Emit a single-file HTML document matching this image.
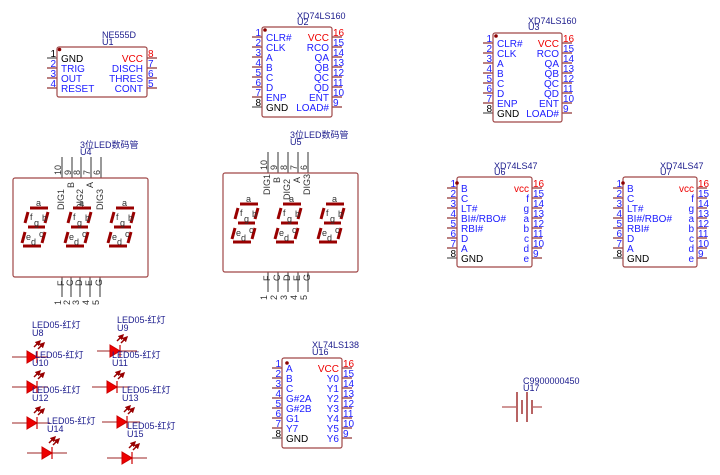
<!DOCTYPE html>
<html><head><meta charset="utf-8"><style>
html,body{margin:0;padding:0;background:#fff}
svg{display:block}
text{font-family:"Liberation Sans","Noto Sans CJK SC",sans-serif}
.pn{fill:#2020ff;font-size:10px}
.lb{fill:#1a1a8c;font-size:9px}
.bx{fill:#fff;stroke:#a04848;stroke-width:1.2}
.pl{stroke:#8b2a2a;stroke-width:1.2}
.gl{stroke:#555;stroke-width:1.2}
.sg{stroke:#990000;stroke-width:3;stroke-linecap:butt}
.st{fill:#333;font-size:9px}
.led{fill:#ee0000;stroke:#cc0000}
.lw{stroke:#b05050;stroke-width:1.2}
.ar{stroke:#990000;stroke-width:1.5}
</style></head><body>
<svg width="720" height="475" viewBox="0 0 720 475" xmlns="http://www.w3.org/2000/svg">
<defs>
<marker id="ah" markerWidth="4" markerHeight="4" refX="3" refY="2" orient="auto"><path d="M0,0 L4,2 L0,4z" fill="#990000"/></marker>
</defs>

<!-- U1 NE555D -->
<text class="lb" x="102" y="38">NE555D</text><text class="lb" x="102" y="45">U1</text>
<g>
<line class="gl" x1="47" y1="58" x2="57" y2="58"/>
<line class="pl" x1="47" y1="68" x2="57" y2="68"/><line class="pl" x1="47" y1="78" x2="57" y2="78"/><line class="pl" x1="47" y1="88" x2="57" y2="88"/>
<line class="pl" x1="147" y1="58" x2="157" y2="58"/><line class="pl" x1="147" y1="68" x2="157" y2="68"/><line class="pl" x1="147" y1="78" x2="157" y2="78"/><line class="pl" x1="147" y1="88" x2="157" y2="88"/>
<rect class="bx" x="57" y="47" width="90" height="50" rx="2"/>
<circle cx="59.5" cy="49.5" r="1.8" fill="#8b0000"/>
<text class="pn" x="56" y="57" text-anchor="end" style="fill:#000">1</text>
<text class="pn" x="56" y="67" text-anchor="end">2</text><text class="pn" x="56" y="77" text-anchor="end">3</text><text class="pn" x="56" y="87" text-anchor="end">4</text>
<text class="pn" x="61" y="62" style="fill:#000">GND</text>
<text class="pn" x="61" y="72">TRIG</text><text class="pn" x="61" y="82">OUT</text><text class="pn" x="61" y="92">RESET</text>
<text class="pn" x="143" y="62" text-anchor="end" style="fill:#e00">VCC</text>
<text class="pn" x="143" y="72" text-anchor="end">DISCH</text><text class="pn" x="143" y="82" text-anchor="end">THRES</text><text class="pn" x="143" y="92" text-anchor="end">CONT</text>
<text class="pn" x="148" y="57" style="fill:#e00">8</text><text class="pn" x="148" y="67">7</text><text class="pn" x="148" y="77">6</text><text class="pn" x="148" y="87">5</text>
</g>

<!-- U2 XD74LS160 -->
<g transform="translate(262,27)">
<text class="lb" x="35" y="-8">XD74LS160</text><text class="lb" x="35" y="-2">U2</text>
<g id="ls160">
<line class="pl" x1="-10" y1="10" x2="0" y2="10"/><line class="pl" x1="-10" y1="20" x2="0" y2="20"/><line class="pl" x1="-10" y1="30" x2="0" y2="30"/><line class="pl" x1="-10" y1="40" x2="0" y2="40"/><line class="pl" x1="-10" y1="50" x2="0" y2="50"/><line class="pl" x1="-10" y1="60" x2="0" y2="60"/><line class="pl" x1="-10" y1="70" x2="0" y2="70"/><line class="gl" x1="-10" y1="80" x2="0" y2="80"/>
<line class="pl" x1="70" y1="10" x2="80" y2="10"/><line class="pl" x1="70" y1="20" x2="80" y2="20"/><line class="pl" x1="70" y1="30" x2="80" y2="30"/><line class="pl" x1="70" y1="40" x2="80" y2="40"/><line class="pl" x1="70" y1="50" x2="80" y2="50"/><line class="pl" x1="70" y1="60" x2="80" y2="60"/><line class="pl" x1="70" y1="70" x2="80" y2="70"/><line class="pl" x1="70" y1="80" x2="80" y2="80"/>
<rect class="bx" x="0" y="0" width="70" height="90" rx="2"/>
<circle cx="3" cy="3" r="1.8" fill="#8b0000"/>
<text class="pn" x="-1" y="9" text-anchor="end">1</text><text class="pn" x="-1" y="19" text-anchor="end">2</text><text class="pn" x="-1" y="29" text-anchor="end">3</text><text class="pn" x="-1" y="39" text-anchor="end">4</text><text class="pn" x="-1" y="49" text-anchor="end">5</text><text class="pn" x="-1" y="59" text-anchor="end">6</text><text class="pn" x="-1" y="69" text-anchor="end">7</text><text class="pn" x="-1" y="79" text-anchor="end" style="fill:#000">8</text>
<text class="pn" x="4" y="14">CLR#</text><text class="pn" x="4" y="24">CLK</text><text class="pn" x="4" y="34">A</text><text class="pn" x="4" y="44">B</text><text class="pn" x="4" y="54">C</text><text class="pn" x="4" y="64">D</text><text class="pn" x="4" y="74">ENP</text><text class="pn" x="4" y="84" style="fill:#000">GND</text>
<text class="pn" x="67" y="14" text-anchor="end" style="fill:#e00">VCC</text><text class="pn" x="67" y="24" text-anchor="end">RCO</text><text class="pn" x="67" y="34" text-anchor="end">QA</text><text class="pn" x="67" y="44" text-anchor="end">QB</text><text class="pn" x="67" y="54" text-anchor="end">QC</text><text class="pn" x="67" y="64" text-anchor="end">QD</text><text class="pn" x="67" y="74" text-anchor="end">ENT</text><text class="pn" x="67" y="84" text-anchor="end">LOAD#</text>
<text class="pn" x="71" y="9" style="fill:#e00">16</text><text class="pn" x="71" y="19">15</text><text class="pn" x="71" y="29">14</text><text class="pn" x="71" y="39">13</text><text class="pn" x="71" y="49">12</text><text class="pn" x="71" y="59">11</text><text class="pn" x="71" y="69">10</text><text class="pn" x="71" y="79">9</text>
</g>
</g>

<!-- U3 -->
<g transform="translate(493,33)">
<text class="lb" x="35" y="-9">XD74LS160</text><text class="lb" x="35" y="-3">U3</text>
<line class="pl" x1="-10" y1="10" x2="0" y2="10"/><line class="pl" x1="-10" y1="20" x2="0" y2="20"/><line class="pl" x1="-10" y1="30" x2="0" y2="30"/><line class="pl" x1="-10" y1="40" x2="0" y2="40"/><line class="pl" x1="-10" y1="50" x2="0" y2="50"/><line class="pl" x1="-10" y1="60" x2="0" y2="60"/><line class="pl" x1="-10" y1="70" x2="0" y2="70"/><line class="gl" x1="-10" y1="80" x2="0" y2="80"/>
<line class="pl" x1="69" y1="10" x2="79" y2="10"/><line class="pl" x1="69" y1="20" x2="79" y2="20"/><line class="pl" x1="69" y1="30" x2="79" y2="30"/><line class="pl" x1="69" y1="40" x2="79" y2="40"/><line class="pl" x1="69" y1="50" x2="79" y2="50"/><line class="pl" x1="69" y1="60" x2="79" y2="60"/><line class="pl" x1="69" y1="70" x2="79" y2="70"/><line class="pl" x1="69" y1="80" x2="79" y2="80"/>
<rect class="bx" x="0" y="0" width="69" height="89" rx="2"/>
<circle cx="3" cy="3" r="1.8" fill="#8b0000"/>
<text class="pn" x="-1" y="9" text-anchor="end">1</text><text class="pn" x="-1" y="19" text-anchor="end">2</text><text class="pn" x="-1" y="29" text-anchor="end">3</text><text class="pn" x="-1" y="39" text-anchor="end">4</text><text class="pn" x="-1" y="49" text-anchor="end">5</text><text class="pn" x="-1" y="59" text-anchor="end">6</text><text class="pn" x="-1" y="69" text-anchor="end">7</text><text class="pn" x="-1" y="79" text-anchor="end" style="fill:#000">8</text>
<text class="pn" x="4" y="14">CLR#</text><text class="pn" x="4" y="24">CLK</text><text class="pn" x="4" y="34">A</text><text class="pn" x="4" y="44">B</text><text class="pn" x="4" y="54">C</text><text class="pn" x="4" y="64">D</text><text class="pn" x="4" y="74">ENP</text><text class="pn" x="4" y="84" style="fill:#000">GND</text>
<text class="pn" x="66" y="14" text-anchor="end" style="fill:#e00">VCC</text><text class="pn" x="66" y="24" text-anchor="end">RCO</text><text class="pn" x="66" y="34" text-anchor="end">QA</text><text class="pn" x="66" y="44" text-anchor="end">QB</text><text class="pn" x="66" y="54" text-anchor="end">QC</text><text class="pn" x="66" y="64" text-anchor="end">QD</text><text class="pn" x="66" y="74" text-anchor="end">ENT</text><text class="pn" x="66" y="84" text-anchor="end">LOAD#</text>
<text class="pn" x="70" y="9" style="fill:#e00">16</text><text class="pn" x="70" y="19">15</text><text class="pn" x="70" y="29">14</text><text class="pn" x="70" y="39">13</text><text class="pn" x="70" y="49">12</text><text class="pn" x="70" y="59">11</text><text class="pn" x="70" y="69">10</text><text class="pn" x="70" y="79">9</text>
</g>

<!-- U4 7seg -->
<g transform="translate(0,0)">
<text class="lb" x="80" y="148">3位LED数码管</text><text class="lb" x="80" y="155">U4</text>
<line class="gl" x1="62" y1="157" x2="62" y2="178"/><line class="gl" x1="72" y1="157" x2="72" y2="178"/><line class="gl" x1="81" y1="157" x2="81" y2="178"/><line class="gl" x1="91" y1="157" x2="91" y2="178"/><line class="gl" x1="101" y1="157" x2="101" y2="178"/>
<line class="gl" x1="62" y1="277" x2="62" y2="297"/><line class="gl" x1="71" y1="277" x2="71" y2="297"/><line class="gl" x1="80" y1="277" x2="80" y2="297"/><line class="gl" x1="90" y1="277" x2="90" y2="297"/><line class="gl" x1="100" y1="277" x2="100" y2="297"/>
<rect class="bx" x="13" y="178" width="135" height="99" rx="2"/>
<g class="st">
<text transform="translate(61,175) rotate(-90)">10</text><text transform="translate(71,175) rotate(-90)">9</text><text transform="translate(80,175) rotate(-90)">8</text><text transform="translate(90,175) rotate(-90)">7</text><text transform="translate(100,175) rotate(-90)">6</text>
<text transform="translate(64,210) rotate(-90)">DIG1</text><text transform="translate(74,188) rotate(-90)">B</text><text transform="translate(83,210) rotate(-90)">DIG2</text><text transform="translate(93,188) rotate(-90)">A</text><text transform="translate(103,210) rotate(-90)">DIG3</text>
<text transform="translate(64,286) rotate(-90)">F</text><text transform="translate(73,286) rotate(-90)">C</text><text transform="translate(82,286) rotate(-90)">D</text><text transform="translate(92,286) rotate(-90)">E</text><text transform="translate(102,286) rotate(-90)">G</text>
<text transform="translate(61,300) rotate(-90)" text-anchor="end">1</text><text transform="translate(70,300) rotate(-90)" text-anchor="end">2</text><text transform="translate(79,300) rotate(-90)" text-anchor="end">3</text><text transform="translate(89,300) rotate(-90)" text-anchor="end">4</text><text transform="translate(99,300) rotate(-90)" text-anchor="end">5</text>
</g>
<g id="dg">
<line class="sg" x1="30" y1="208" x2="48" y2="208"/>
<line class="sg" x1="25" y1="223" x2="28" y2="212"/><line class="sg" x1="48" y1="212" x2="45" y2="223"/>
<line class="sg" x1="28" y1="227" x2="45" y2="227"/>
<line class="sg" x1="22" y1="243" x2="25" y2="232"/><line class="sg" x1="45" y1="232" x2="42" y2="243"/>
<line class="sg" x1="23" y1="246" x2="41" y2="246"/>
<text class="st" x="36" y="206">a</text><text class="st" x="30" y="220">f</text><text class="st" x="34" y="226">g</text><text class="st" x="42" y="221">b</text><text class="st" x="26" y="240">e</text><text class="st" x="31" y="245">d</text><text class="st" x="39" y="237">c</text>
</g>
<g transform="translate(43,0)">
<line class="sg" x1="30" y1="208" x2="48" y2="208"/><line class="sg" x1="25" y1="223" x2="28" y2="212"/><line class="sg" x1="48" y1="212" x2="45" y2="223"/><line class="sg" x1="28" y1="227" x2="45" y2="227"/><line class="sg" x1="22" y1="243" x2="25" y2="232"/><line class="sg" x1="45" y1="232" x2="42" y2="243"/><line class="sg" x1="23" y1="246" x2="41" y2="246"/>
<text class="st" x="36" y="206">a</text><text class="st" x="30" y="220">f</text><text class="st" x="34" y="226">g</text><text class="st" x="42" y="221">b</text><text class="st" x="26" y="240">e</text><text class="st" x="31" y="245">d</text><text class="st" x="39" y="237">c</text>
</g>
<g transform="translate(86,0)">
<line class="sg" x1="30" y1="208" x2="48" y2="208"/><line class="sg" x1="25" y1="223" x2="28" y2="212"/><line class="sg" x1="48" y1="212" x2="45" y2="223"/><line class="sg" x1="28" y1="227" x2="45" y2="227"/><line class="sg" x1="22" y1="243" x2="25" y2="232"/><line class="sg" x1="45" y1="232" x2="42" y2="243"/><line class="sg" x1="23" y1="246" x2="41" y2="246"/>
<text class="st" x="36" y="206">a</text><text class="st" x="30" y="220">f</text><text class="st" x="34" y="226">g</text><text class="st" x="42" y="221">b</text><text class="st" x="26" y="240">e</text><text class="st" x="31" y="245">d</text><text class="st" x="39" y="237">c</text>
</g>
</g>

<!-- U5 7seg -->
<g transform="translate(210,-5)">
<text class="lb" x="80" y="143">3位LED数码管</text><text class="lb" x="80" y="150">U5</text>
<line class="gl" x1="58" y1="157" x2="58" y2="178"/><line class="gl" x1="68" y1="157" x2="68" y2="178"/><line class="gl" x1="78" y1="157" x2="78" y2="178"/><line class="gl" x1="88" y1="157" x2="88" y2="178"/><line class="gl" x1="98" y1="157" x2="98" y2="178"/>
<line class="gl" x1="58" y1="277" x2="58" y2="297"/><line class="gl" x1="68" y1="277" x2="68" y2="297"/><line class="gl" x1="78" y1="277" x2="78" y2="297"/><line class="gl" x1="88" y1="277" x2="88" y2="297"/><line class="gl" x1="98" y1="277" x2="98" y2="297"/>
<rect class="bx" x="13" y="178" width="135" height="99" rx="2"/>
<g class="st">
<text transform="translate(57,175) rotate(-90)">10</text><text transform="translate(67,175) rotate(-90)">9</text><text transform="translate(77,175) rotate(-90)">8</text><text transform="translate(87,175) rotate(-90)">7</text><text transform="translate(97,175) rotate(-90)">6</text>
<text transform="translate(60,200) rotate(-90)">DIG1</text><text transform="translate(70,188) rotate(-90)">B</text><text transform="translate(80,205) rotate(-90)">DIG2</text><text transform="translate(90,188) rotate(-90)">A</text><text transform="translate(100,200) rotate(-90)">DIG3</text>
<text transform="translate(60,286) rotate(-90)">F</text><text transform="translate(70,286) rotate(-90)">C</text><text transform="translate(80,286) rotate(-90)">D</text><text transform="translate(90,286) rotate(-90)">E</text><text transform="translate(100,286) rotate(-90)">G</text>
<text transform="translate(57,300) rotate(-90)" text-anchor="end">1</text><text transform="translate(67,300) rotate(-90)" text-anchor="end">2</text><text transform="translate(77,300) rotate(-90)" text-anchor="end">3</text><text transform="translate(87,300) rotate(-90)" text-anchor="end">4</text><text transform="translate(97,300) rotate(-90)" text-anchor="end">5</text>
</g>
<g transform="translate(0,1)">
<line class="sg" x1="30" y1="208" x2="48" y2="208"/><line class="sg" x1="25" y1="223" x2="28" y2="212"/><line class="sg" x1="48" y1="212" x2="45" y2="223"/><line class="sg" x1="28" y1="227" x2="45" y2="227"/><line class="sg" x1="22" y1="243" x2="25" y2="232"/><line class="sg" x1="45" y1="232" x2="42" y2="243"/><line class="sg" x1="23" y1="246" x2="41" y2="246"/>
<text class="st" x="36" y="206">a</text><text class="st" x="30" y="220">f</text><text class="st" x="34" y="226">g</text><text class="st" x="42" y="221">b</text><text class="st" x="26" y="240">e</text><text class="st" x="31" y="245">d</text><text class="st" x="39" y="237">c</text>
</g>
<g transform="translate(43,1)">
<line class="sg" x1="30" y1="208" x2="48" y2="208"/><line class="sg" x1="25" y1="223" x2="28" y2="212"/><line class="sg" x1="48" y1="212" x2="45" y2="223"/><line class="sg" x1="28" y1="227" x2="45" y2="227"/><line class="sg" x1="22" y1="243" x2="25" y2="232"/><line class="sg" x1="45" y1="232" x2="42" y2="243"/><line class="sg" x1="23" y1="246" x2="41" y2="246"/>
<text class="st" x="36" y="206">a</text><text class="st" x="30" y="220">f</text><text class="st" x="34" y="226">g</text><text class="st" x="42" y="221">b</text><text class="st" x="26" y="240">e</text><text class="st" x="31" y="245">d</text><text class="st" x="39" y="237">c</text>
</g>
<g transform="translate(86,1)">
<line class="sg" x1="30" y1="208" x2="48" y2="208"/><line class="sg" x1="25" y1="223" x2="28" y2="212"/><line class="sg" x1="48" y1="212" x2="45" y2="223"/><line class="sg" x1="28" y1="227" x2="45" y2="227"/><line class="sg" x1="22" y1="243" x2="25" y2="232"/><line class="sg" x1="45" y1="232" x2="42" y2="243"/><line class="sg" x1="23" y1="246" x2="41" y2="246"/>
<text class="st" x="36" y="206">a</text><text class="st" x="30" y="220">f</text><text class="st" x="34" y="226">g</text><text class="st" x="42" y="221">b</text><text class="st" x="26" y="240">e</text><text class="st" x="31" y="245">d</text><text class="st" x="39" y="237">c</text>
</g>
</g>

<!-- U6 XD74LS47 -->
<g transform="translate(457,177)">
<text class="lb" x="37" y="-8">XD74LS47</text><text class="lb" x="37" y="-2">U6</text>
<line class="pl" x1="-10" y1="11" x2="0" y2="11"/><line class="pl" x1="-10" y1="21" x2="0" y2="21"/><line class="pl" x1="-10" y1="31" x2="0" y2="31"/><line class="pl" x1="-10" y1="41" x2="0" y2="41"/><line class="pl" x1="-10" y1="51" x2="0" y2="51"/><line class="pl" x1="-10" y1="61" x2="0" y2="61"/><line class="pl" x1="-10" y1="71" x2="0" y2="71"/><line class="gl" x1="-10" y1="81" x2="0" y2="81"/>
<line class="pl" x1="75" y1="11" x2="85" y2="11"/><line class="pl" x1="75" y1="21" x2="85" y2="21"/><line class="pl" x1="75" y1="31" x2="85" y2="31"/><line class="pl" x1="75" y1="41" x2="85" y2="41"/><line class="pl" x1="75" y1="51" x2="85" y2="51"/><line class="pl" x1="75" y1="61" x2="85" y2="61"/><line class="pl" x1="75" y1="71" x2="85" y2="71"/><line class="pl" x1="75" y1="81" x2="85" y2="81"/>
<rect class="bx" x="0" y="0" width="75" height="90" rx="2"/>
<circle cx="0" cy="6" r="1.8" fill="#8b0000"/>
<text class="pn" x="-1" y="10" text-anchor="end">1</text><text class="pn" x="-1" y="20" text-anchor="end">2</text><text class="pn" x="-1" y="30" text-anchor="end">3</text><text class="pn" x="-1" y="40" text-anchor="end">4</text><text class="pn" x="-1" y="50" text-anchor="end">5</text><text class="pn" x="-1" y="60" text-anchor="end">6</text><text class="pn" x="-1" y="70" text-anchor="end">7</text><text class="pn" x="-1" y="80" text-anchor="end" style="fill:#000">8</text>
<text class="pn" x="4" y="15">B</text><text class="pn" x="4" y="25">C</text><text class="pn" x="4" y="35">LT#</text><text class="pn" x="4" y="45">BI#/RBO#</text><text class="pn" x="4" y="55">RBI#</text><text class="pn" x="4" y="65">D</text><text class="pn" x="4" y="75">A</text><text class="pn" x="4" y="85" style="fill:#000">GND</text>
<text class="pn" x="72" y="15" text-anchor="end" style="fill:#e00">vcc</text><text class="pn" x="72" y="25" text-anchor="end">f</text><text class="pn" x="72" y="35" text-anchor="end">g</text><text class="pn" x="72" y="45" text-anchor="end">a</text><text class="pn" x="72" y="55" text-anchor="end">b</text><text class="pn" x="72" y="65" text-anchor="end">c</text><text class="pn" x="72" y="75" text-anchor="end">d</text><text class="pn" x="72" y="85" text-anchor="end">e</text>
<text class="pn" x="76" y="10" style="fill:#e00">16</text><text class="pn" x="76" y="20">15</text><text class="pn" x="76" y="30">14</text><text class="pn" x="76" y="40">13</text><text class="pn" x="76" y="50">12</text><text class="pn" x="76" y="60">11</text><text class="pn" x="76" y="70">10</text><text class="pn" x="76" y="80">9</text>
</g>

<!-- U7 -->
<g transform="translate(623,177)">
<text class="lb" x="37" y="-8">XD74LS47</text><text class="lb" x="37" y="-2">U7</text>
<line class="pl" x1="-10" y1="11" x2="0" y2="11"/><line class="pl" x1="-10" y1="21" x2="0" y2="21"/><line class="pl" x1="-10" y1="31" x2="0" y2="31"/><line class="pl" x1="-10" y1="41" x2="0" y2="41"/><line class="pl" x1="-10" y1="51" x2="0" y2="51"/><line class="pl" x1="-10" y1="61" x2="0" y2="61"/><line class="pl" x1="-10" y1="71" x2="0" y2="71"/><line class="gl" x1="-10" y1="81" x2="0" y2="81"/>
<line class="pl" x1="74" y1="11" x2="84" y2="11"/><line class="pl" x1="74" y1="21" x2="84" y2="21"/><line class="pl" x1="74" y1="31" x2="84" y2="31"/><line class="pl" x1="74" y1="41" x2="84" y2="41"/><line class="pl" x1="74" y1="51" x2="84" y2="51"/><line class="pl" x1="74" y1="61" x2="84" y2="61"/><line class="pl" x1="74" y1="71" x2="84" y2="71"/><line class="pl" x1="74" y1="81" x2="84" y2="81"/>
<rect class="bx" x="0" y="0" width="74" height="90" rx="2"/>
<circle cx="0" cy="6" r="1.8" fill="#8b0000"/>
<text class="pn" x="-1" y="10" text-anchor="end">1</text><text class="pn" x="-1" y="20" text-anchor="end">2</text><text class="pn" x="-1" y="30" text-anchor="end">3</text><text class="pn" x="-1" y="40" text-anchor="end">4</text><text class="pn" x="-1" y="50" text-anchor="end">5</text><text class="pn" x="-1" y="60" text-anchor="end">6</text><text class="pn" x="-1" y="70" text-anchor="end">7</text><text class="pn" x="-1" y="80" text-anchor="end" style="fill:#000">8</text>
<text class="pn" x="4" y="15">B</text><text class="pn" x="4" y="25">C</text><text class="pn" x="4" y="35">LT#</text><text class="pn" x="4" y="45">BI#/RBO#</text><text class="pn" x="4" y="55">RBI#</text><text class="pn" x="4" y="65">D</text><text class="pn" x="4" y="75">A</text><text class="pn" x="4" y="85" style="fill:#000">GND</text>
<text class="pn" x="71" y="15" text-anchor="end" style="fill:#e00">vcc</text><text class="pn" x="71" y="25" text-anchor="end">f</text><text class="pn" x="71" y="35" text-anchor="end">g</text><text class="pn" x="71" y="45" text-anchor="end">a</text><text class="pn" x="71" y="55" text-anchor="end">b</text><text class="pn" x="71" y="65" text-anchor="end">c</text><text class="pn" x="71" y="75" text-anchor="end">d</text><text class="pn" x="71" y="85" text-anchor="end">e</text>
<text class="pn" x="75" y="10" style="fill:#e00">16</text><text class="pn" x="75" y="20">15</text><text class="pn" x="75" y="30">14</text><text class="pn" x="75" y="40">13</text><text class="pn" x="75" y="50">12</text><text class="pn" x="75" y="60">11</text><text class="pn" x="75" y="70">10</text><text class="pn" x="75" y="80">9</text>
</g>

<!-- U16 XL74LS138 -->
<g transform="translate(282,358)">
<text class="lb" x="30" y="-10">XL74LS138</text><text class="lb" x="30" y="-3">U16</text>
<line class="pl" x1="-10" y1="10" x2="0" y2="10"/><line class="pl" x1="-10" y1="20" x2="0" y2="20"/><line class="pl" x1="-10" y1="30" x2="0" y2="30"/><line class="pl" x1="-10" y1="40" x2="0" y2="40"/><line class="pl" x1="-10" y1="50" x2="0" y2="50"/><line class="pl" x1="-10" y1="60" x2="0" y2="60"/><line class="pl" x1="-10" y1="70" x2="0" y2="70"/><line class="gl" x1="-10" y1="80" x2="0" y2="80"/>
<line class="pl" x1="60" y1="10" x2="70" y2="10"/><line class="pl" x1="60" y1="20" x2="70" y2="20"/><line class="pl" x1="60" y1="30" x2="70" y2="30"/><line class="pl" x1="60" y1="40" x2="70" y2="40"/><line class="pl" x1="60" y1="50" x2="70" y2="50"/><line class="pl" x1="60" y1="60" x2="70" y2="60"/><line class="pl" x1="60" y1="70" x2="70" y2="70"/><line class="pl" x1="60" y1="80" x2="70" y2="80"/>
<rect class="bx" x="0" y="0" width="60" height="90" rx="2"/>
<circle cx="5" cy="5" r="1.8" fill="#8b0000"/>
<text class="pn" x="-1" y="9" text-anchor="end">1</text><text class="pn" x="-1" y="19" text-anchor="end">2</text><text class="pn" x="-1" y="29" text-anchor="end">3</text><text class="pn" x="-1" y="39" text-anchor="end">4</text><text class="pn" x="-1" y="49" text-anchor="end">5</text><text class="pn" x="-1" y="59" text-anchor="end">6</text><text class="pn" x="-1" y="69" text-anchor="end">7</text><text class="pn" x="-1" y="79" text-anchor="end" style="fill:#000">8</text>
<text class="pn" x="4" y="14">A</text><text class="pn" x="4" y="24">B</text><text class="pn" x="4" y="34">C</text><text class="pn" x="4" y="44">G#2A</text><text class="pn" x="4" y="54">G#2B</text><text class="pn" x="4" y="64">G1</text><text class="pn" x="4" y="74">Y7</text><text class="pn" x="4" y="84" style="fill:#000">GND</text>
<text class="pn" x="57" y="14" text-anchor="end" style="fill:#e00">VCC</text><text class="pn" x="57" y="24" text-anchor="end">Y0</text><text class="pn" x="57" y="34" text-anchor="end">Y1</text><text class="pn" x="57" y="44" text-anchor="end">Y2</text><text class="pn" x="57" y="54" text-anchor="end">Y3</text><text class="pn" x="57" y="64" text-anchor="end">Y4</text><text class="pn" x="57" y="74" text-anchor="end">Y5</text><text class="pn" x="57" y="84" text-anchor="end">Y6</text>
<text class="pn" x="61" y="9" style="fill:#e00">16</text><text class="pn" x="61" y="19">15</text><text class="pn" x="61" y="29">14</text><text class="pn" x="61" y="39">13</text><text class="pn" x="61" y="49">12</text><text class="pn" x="61" y="59">11</text><text class="pn" x="61" y="69">10</text><text class="pn" x="61" y="79">9</text>
</g>

<!-- Battery U17 -->
<text class="lb" x="523" y="384">C9900000450</text><text class="lb" x="523" y="391">U17</text>
<line class="lw" x1="502" y1="407" x2="516" y2="407"/>
<line stroke="#a03030" stroke-width="1.5" x1="517" y1="392" x2="517" y2="422"/>
<line stroke="#a03030" stroke-width="1.5" x1="522" y1="400" x2="522" y2="414"/>
<line stroke="#a03030" stroke-width="1.5" x1="527" y1="392" x2="527" y2="422"/>
<line stroke="#a03030" stroke-width="1.5" x1="532" y1="400" x2="532" y2="414"/>
<line class="lw" x1="533" y1="407" x2="542" y2="407"/>

<!-- LEDs -->
<g transform="translate(27,357)">
<line class="lw" x1="-15" y1="0" x2="21" y2="0"/><polygon class="led" points="0,-6 0,6 10,0"/><line stroke="#c00" stroke-width="1.2" x1="10" y1="-6" x2="10" y2="6"/>
<line class="ar" x1="7" y1="-10" x2="13" y2="-16" marker-end="url(#ah)"/><line class="ar" x1="11" y1="-8" x2="17" y2="-14" marker-end="url(#ah)"/>
</g>
<g transform="translate(27,387)">
<line class="lw" x1="-15" y1="0" x2="21" y2="0"/><polygon class="led" points="0,-6 0,6 10,0"/><line stroke="#c00" stroke-width="1.2" x1="10" y1="-6" x2="10" y2="6"/>
<line class="ar" x1="7" y1="-10" x2="13" y2="-16" marker-end="url(#ah)"/><line class="ar" x1="11" y1="-8" x2="17" y2="-14" marker-end="url(#ah)"/>
</g>
<g transform="translate(27,423)">
<line class="lw" x1="-15" y1="0" x2="23" y2="0"/><polygon class="led" points="0,-6 0,6 10,0"/><line stroke="#c00" stroke-width="1.2" x1="10" y1="-6" x2="10" y2="6"/>
<line class="ar" x1="7" y1="-10" x2="13" y2="-16" marker-end="url(#ah)"/><line class="ar" x1="11" y1="-8" x2="17" y2="-14" marker-end="url(#ah)"/>
</g>
<g transform="translate(42,453)">
<line class="lw" x1="-15" y1="0" x2="25" y2="0"/><polygon class="led" points="0,-6 0,6 10,0"/><line stroke="#c00" stroke-width="1.2" x1="10" y1="-6" x2="10" y2="6"/>
<line class="ar" x1="7" y1="-10" x2="13" y2="-16" marker-end="url(#ah)"/><line class="ar" x1="11" y1="-8" x2="17" y2="-14" marker-end="url(#ah)"/>
</g>
<g transform="translate(110,351)">
<line class="lw" x1="-13" y1="0" x2="27" y2="0"/><polygon class="led" points="0,-6 0,6 10,0"/><line stroke="#c00" stroke-width="1.2" x1="10" y1="-6" x2="10" y2="6"/>
<line class="ar" x1="7" y1="-10" x2="13" y2="-16" marker-end="url(#ah)"/><line class="ar" x1="11" y1="-8" x2="17" y2="-14" marker-end="url(#ah)"/>
</g>
<g transform="translate(107,387)">
<line class="lw" x1="-15" y1="0" x2="23" y2="0"/><polygon class="led" points="0,-6 0,6 10,0"/><line stroke="#c00" stroke-width="1.2" x1="10" y1="-6" x2="10" y2="6"/>
<line class="ar" x1="7" y1="-10" x2="13" y2="-16" marker-end="url(#ah)"/><line class="ar" x1="11" y1="-8" x2="17" y2="-14" marker-end="url(#ah)"/>
</g>
<g transform="translate(117,422)">
<line class="lw" x1="-15" y1="0" x2="23" y2="0"/><polygon class="led" points="0,-6 0,6 10,0"/><line stroke="#c00" stroke-width="1.2" x1="10" y1="-6" x2="10" y2="6"/>
<line class="ar" x1="7" y1="-10" x2="13" y2="-16" marker-end="url(#ah)"/><line class="ar" x1="11" y1="-8" x2="17" y2="-14" marker-end="url(#ah)"/>
</g>
<g transform="translate(122,458)">
<line class="lw" x1="-15" y1="0" x2="25" y2="0"/><polygon class="led" points="0,-6 0,6 10,0"/><line stroke="#c00" stroke-width="1.2" x1="10" y1="-6" x2="10" y2="6"/>
<line class="ar" x1="7" y1="-10" x2="13" y2="-16" marker-end="url(#ah)"/><line class="ar" x1="11" y1="-8" x2="17" y2="-14" marker-end="url(#ah)"/>
</g>
<text class="lb" x="32" y="328">LED05-红灯</text><text class="lb" x="32" y="336">U8</text>
<text class="lb" x="117" y="323">LED05-红灯</text><text class="lb" x="117" y="331">U9</text>
<text class="lb" x="35" y="358">LED05-红灯</text><text class="lb" x="32" y="366">U10</text>
<text class="lb" x="112" y="358">LED05-红灯</text><text class="lb" x="112" y="366">U11</text>
<text class="lb" x="32" y="393">LED05-红灯</text><text class="lb" x="32" y="401">U12</text>
<text class="lb" x="122" y="393">LED05-红灯</text><text class="lb" x="122" y="401">U13</text>
<text class="lb" x="47" y="424">LED05-红灯</text><text class="lb" x="47" y="432">U14</text>
<text class="lb" x="127" y="429">LED05-红灯</text><text class="lb" x="127" y="437">U15</text>
</svg>
</body></html>
